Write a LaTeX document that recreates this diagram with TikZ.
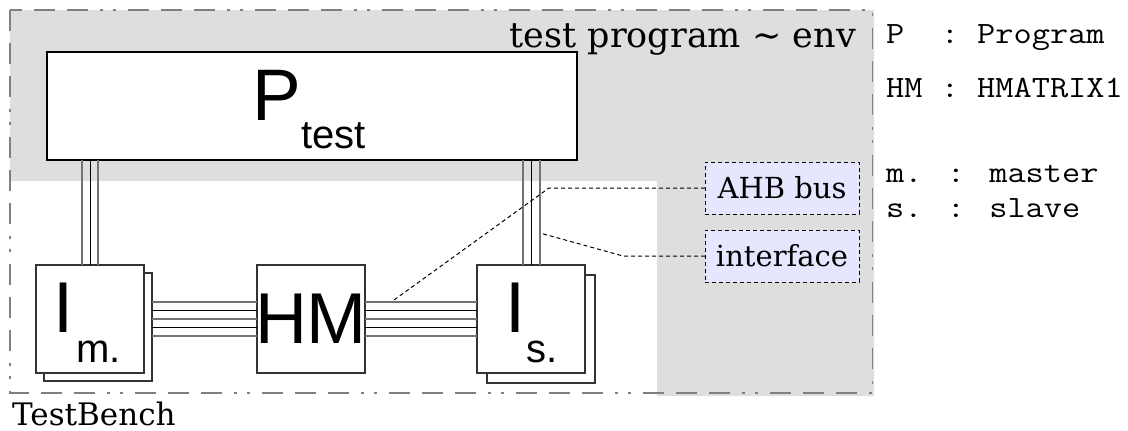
\documentclass[tikz,border=0pt]{standalone}
\usepackage{fontspec}
\usepackage{graphicx}
\setmainfont{DejaVu Serif}
\newfontfamily\arialfont{Liberation Sans}
\usetikzlibrary{calc}

\definecolor{envgray}{RGB}{222,222,222}
\definecolor{tagfill}{RGB}{230,230,255}

% widened typewriter text for the legend
\newcommand{\legtext}[1]{\scalebox{1.14}[1]{#1}}

\begin{document}
\begin{tikzpicture}[x=1pt,y=-1pt,
  frameline/.style={draw=black!50, line width=1.3pt,
    dash pattern=on 21pt off 12pt on 21pt off 12pt on 21pt off 12pt on 3pt off 10pt on 3pt off 12pt},
  unit/.style={draw=black!80, fill=white, line width=1.2pt, minimum width=108pt,
    minimum height=108pt, inner sep=0pt, outer sep=0pt, anchor=north west},
  wireg/.style={draw=black!55, line width=1.2pt},
  wirek/.style={draw=black, line width=1pt},
  tag/.style={draw=black, fill=tagfill, line width=0.8pt, dash pattern=on 4pt off 3pt,
    minimum width=154pt, minimum height=52pt, inner sep=0pt, outer sep=0pt,
    anchor=north west, font=\fontsize{29}{29}\selectfont},
  leader/.style={draw=black, line width=1pt, dash pattern=on 4pt off 3pt},
  bigsans/.style={inner sep=0pt, anchor=base west, font=\arialfont\fontsize{72}{72}\selectfont},
  subsans/.style={inner sep=0pt, anchor=base west, font=\arialfont\fontsize{40}{40}\selectfont},
  legend/.style={inner sep=0pt, anchor=base west, font=\ttfamily\fontsize{31}{31}\selectfont}
]
\useasboundingbox (0,0) rectangle (1128,431);

% test-program environment area and the TestBench frame
\fill[envgray] (10,10) -- (874,10) -- (874,396) -- (657,396) -- (657,181) -- (10,181) -- cycle;
\draw[frameline] (10,10) rectangle (872.5,393);

\node[inner sep=0pt, anchor=base east, font=\fontsize{35}{35}\selectfont] (envtitle)
  at (856,47) {test program \textasciitilde{} env};
\node[inner sep=0pt, anchor=base west, font=\fontsize{31}{31}\selectfont] (tbtitle)
  at (12,425) {TestBench};

% program block
\node[draw=black, fill=white, line width=1.2pt, minimum width=530pt, minimum height=108pt,
  inner sep=0pt, outer sep=0pt, anchor=north west] (P) at (47,52) {};
\node[bigsans, font=\arialfont\fontsize{73}{73}\selectfont] (Pl) at (252,120) {P};
\node[subsans] (Ps) at (301,148) {test};

% master interface, matrix, slave interface
\node[unit] (ImS) at (44,273) {};
\node[unit] (Im) at (36,265) {};
\node[unit] (HM) at (257,265) {};
\node[unit] (IsS) at (487,275) {};
\node[unit] (Is) at (477,265) {};

\node[bigsans] (ImI) at (53,332) {I};
\node[subsans] (Imm) at (76,362) {m.};
\node[bigsans, anchor=base] (HMl) at (311,343) {HM};
\node[bigsans] (IsI) at (505,332) {I};
\node[subsans] (Iss) at (526,362) {s.};

% interface wires between program and interfaces
\foreach \xx/\st in {82/wireg,90/wirek,98/wireg}
  \draw[\st] (P.south -| \xx,0) -- (Im.north -| \xx,0);
\foreach \xx/\st in {523/wireg,531.5/wirek,540/wireg}
  \draw[\st] (P.south -| \xx,0) -- (Is.north -| \xx,0);

% AHB bus wires
\foreach \yy/\st in {302/wireg,310/wirek,319/wireg,327/wirek,336/wireg}{
  \draw[\st] (ImS.east |- 0,\yy) -- (HM.west |- 0,\yy);
  \draw[\st] (HM.east |- 0,\yy) -- (Is.west |- 0,\yy);
}

% callouts
\node[tag] (ahb) at (705,162) {AHB bus};
\node[tag] (itf) at (705,230) {interface};

\coordinate (ahbknee) at (549,188);
\coordinate (ahbtip) at (394,300);
\coordinate (itfknee) at (623,256);
\coordinate (itftip) at (540,233);
\draw[leader] (ahb.west) -- (ahbknee) -- (ahbtip);
\draw[leader] (itf.west) -- (itfknee) -- (itftip);

% legend
\node[legend] (lgP) at (886,43) {\legtext{P~ : Program}};
\node[legend] (lgHM) at (886,97) {\legtext{HM : HMATRIX1}};
\node[legend] (lgm) at (886,182) {\legtext{m. : master}};
\node[legend] (lgs) at (886,217) {\legtext{s. : slave}};
\end{tikzpicture}
\end{document}
